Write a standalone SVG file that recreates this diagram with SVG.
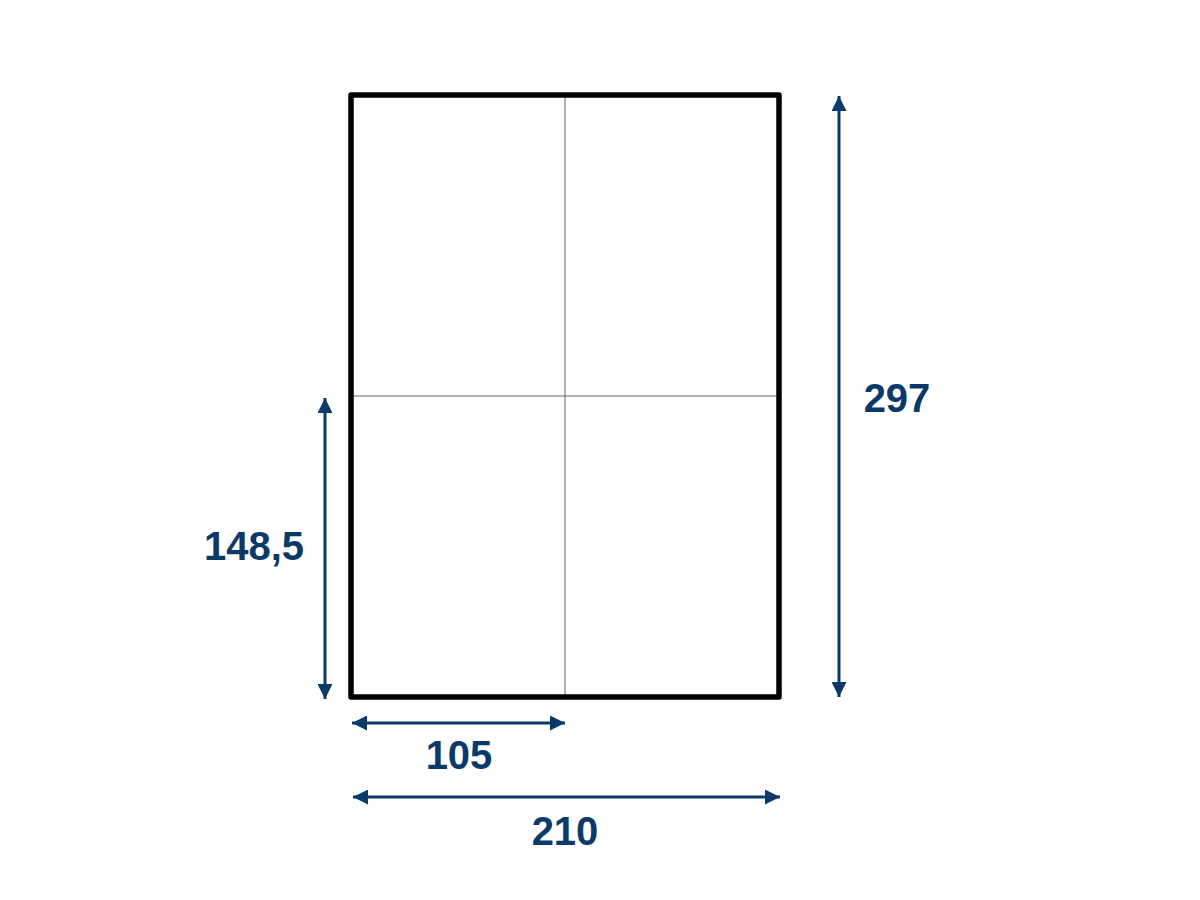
<svg xmlns="http://www.w3.org/2000/svg" width="1200" height="900" viewBox="0 0 1200 900">
<style>
.dim{stroke:#0c3a68;stroke-width:3;fill:none}
.lbl{font-family:"Liberation Sans",Arial,sans-serif;font-weight:bold;font-size:40px;fill:#0c3a68}
.grid{stroke:#666;stroke-width:1}
</style>
<defs>
<marker id="ah" viewBox="0 0 10 10" refX="10" refY="5" markerWidth="5" markerHeight="5" orient="auto-start-reverse" markerUnits="strokeWidth">
<path d="M0,0 L10,5 L0,10 z" fill="#0c3a68"/>
</marker>
</defs>
<rect width="1200" height="900" fill="#fff"/>
<g id="sheet">
<line class="grid" x1="565" y1="95" x2="565" y2="697"/>
<line class="grid" x1="351" y1="396" x2="779" y2="396"/>
<rect x="351" y="95" width="428" height="602" fill="none" stroke="#000" stroke-width="5.5" stroke-linejoin="round"/>
</g>
<g id="connectors">
<line class="dim" x1="839" y1="96" x2="839" y2="697" marker-start="url(#ah)" marker-end="url(#ah)"/>
<line class="dim" x1="325" y1="398" x2="325" y2="699" marker-start="url(#ah)" marker-end="url(#ah)"/>
<line class="dim" x1="352" y1="723" x2="565" y2="723" marker-start="url(#ah)" marker-end="url(#ah)"/>
<line class="dim" x1="353" y1="797" x2="780" y2="797" marker-start="url(#ah)" marker-end="url(#ah)"/>
</g>
<g id="labels">
<text class="lbl" x="897" y="412" text-anchor="middle">297</text>
<text class="lbl" x="304" y="560" text-anchor="end">148,5</text>
<text class="lbl" x="459" y="769" text-anchor="middle">105</text>
<text class="lbl" x="565" y="845" text-anchor="middle">210</text>
</g>
</svg>
